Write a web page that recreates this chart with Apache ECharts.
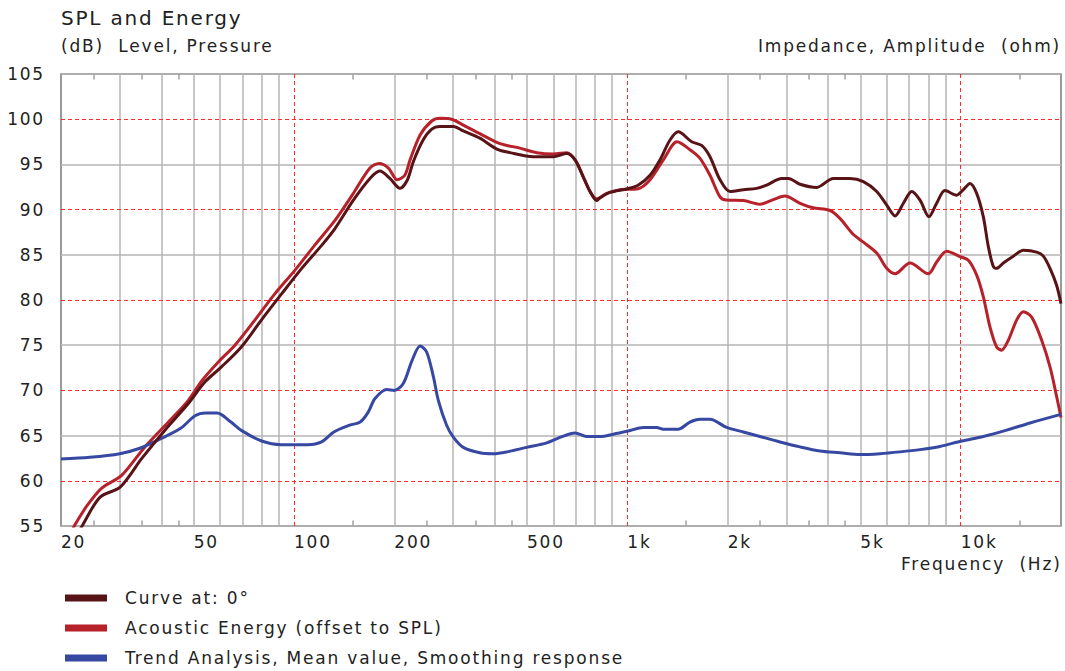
<!DOCTYPE html>
<html>
<head>
<meta charset="utf-8">
<title>SPL and Energy</title>
<script src="https://cdn.jsdelivr.net/npm/echarts@6/dist/echarts.min.js"></script>
<style>
  html, body { margin: 0; padding: 0; background: #fff; }
  #main { width: 1065px; height: 671px; }
  #main svg text { letter-spacing: 1.8px; }
</style>
</head>
<body>
<div id="main"></div>
<script>
// curve at 0 deg
var spl0Freq = [22.4, 23.3, 26.2, 30.1, 34.9, 41, 48.2, 54.1, 60.6, 69.5, 79.7, 91.9, 105.5, 121.4, 132.7, 150.7, 169, 181, 194, 208, 219, 228, 244, 259, 274, 301, 322, 361, 406, 445, 522, 600, 658, 697, 738, 773, 809, 828, 887, 1000, 1077, 1170, 1253, 1343, 1422, 1560, 1671, 1770, 1897, 2033, 2229, 2444, 2618, 2904, 3042, 3297, 3699, 4150, 4656, 5106, 5600, 6001, 6356, 6733, 7131, 7553, 8036, 8472, 8974, 9727, 10186, 10666, 11170, 11696, 12107, 12533, 12824, 13428, 14388, 15418, 16906, 17702, 18538, 19412, 20000];
var spl0Level = [54.0, 55.2, 58.2, 59.3, 62.45, 65.6, 68.55, 70.95, 72.6, 74.8, 77.75, 80.7, 83.5, 86.1, 87.9, 91.05, 93.45, 94.26, 93.45, 92.35, 93.3, 95.3, 97.7, 98.9, 99.2, 99.2, 98.7, 97.9, 96.7, 96.3, 95.85, 95.85, 96.2, 95.5, 93.6, 92.0, 91.0, 91.3, 91.9, 92.3, 92.7, 93.8, 95.5, 97.7, 98.6, 97.5, 97.1, 95.85, 93.3, 92.0, 92.2, 92.35, 92.7, 93.45, 93.45, 92.8, 92.45, 93.45, 93.45, 93.1, 92.0, 90.5, 89.3, 90.7, 92.0, 91.05, 89.2, 90.7, 92.1, 91.6, 92.2, 92.9, 91.8, 89.2, 85.9, 83.7, 83.5, 84.1, 84.85, 85.5, 85.3, 84.85, 83.5, 81.6, 79.6];

// acoustic energy
var energyFreq = [21.3, 22, 24, 26.5, 30.4, 35.7, 42, 48.2, 53, 59.3, 66.5, 76.4, 87.7, 100.7, 115.6, 132.7, 150.7, 169, 180, 192, 204, 215, 223, 239, 259, 274, 297, 322, 361, 415, 476, 535, 600, 658, 697, 738, 773, 809, 867, 951, 1077, 1170, 1283, 1410, 1545, 1650, 1770, 1897, 1980, 2229, 2500, 2740, 2970, 3297, 3610, 4060, 4350, 4750, 5106, 5600, 6001, 6356, 7048, 8000, 8472, 9080, 9954, 10544, 11170, 11696, 12248, 12824, 13274, 13900, 14730, 15418, 16330, 17500, 18538, 19412, 20000];
var energyLevel = [54.0, 55.1, 57.3, 59.2, 60.6, 63.75, 66.5, 68.9, 71.1, 73.15, 75.0, 77.8, 80.7, 83.3, 86.1, 88.8, 91.8, 94.6, 95.1, 94.6, 93.3, 93.8, 95.5, 98.25, 99.8, 100.1, 100.0, 99.35, 98.4, 97.3, 96.8, 96.3, 96.15, 96.3, 95.5, 93.6, 92.0, 91.2, 91.8, 92.2, 92.3, 93.3, 95.5, 97.5, 96.6, 95.7, 93.8, 91.4, 91.05, 91.0, 90.6, 91.1, 91.5, 90.7, 90.2, 89.9, 89.0, 87.3, 86.4, 85.2, 83.5, 82.9, 84.1, 82.9, 84.2, 85.4, 84.8, 84.4, 82.75, 80.35, 77.0, 74.8, 74.45, 75.55, 77.8, 78.7, 78.1, 75.55, 72.6, 69.3, 67.0];

// trend analysis
var trendFreq = [20, 24.4, 30, 34.5, 39.6, 45.7, 50.5, 54.4, 58.8, 64.7, 69.7, 80, 91.5, 110, 121, 131.7, 147, 158, 167, 175, 190, 200, 213, 226, 239, 250, 262, 271, 287, 301, 322, 361, 396, 435, 499, 573, 628, 697, 755, 828, 908, 1005, 1117, 1225, 1282, 1420, 1542, 1652, 1770, 1986, 2229, 2500, 2870, 3297, 3784, 4346, 4990, 5728, 6578, 7553, 8670, 10070, 11700, 13740, 16150, 20000];
var trendLevel = [62.4, 62.6, 63.0, 63.6, 64.6, 65.8, 67.2, 67.5, 67.5, 66.5, 65.55, 64.4, 64.0, 64.0, 64.3, 65.4, 66.15, 66.5, 67.6, 69.1, 70.1, 70.0, 70.8, 73.3, 74.9, 74.25, 71.5, 68.9, 66.15, 64.8, 63.7, 63.1, 63.0, 63.2, 63.7, 64.2, 64.8, 65.3, 64.9, 64.9, 65.15, 65.5, 65.9, 65.9, 65.7, 65.7, 66.5, 66.8, 66.8, 65.9, 65.4, 64.9, 64.3, 63.75, 63.3, 63.1, 62.9, 63.0, 63.2, 63.45, 63.8, 64.4, 64.9, 65.6, 66.4, 67.35];

// axis ticks and grid
var tickFreq = [20, 50, 100, 200, 500, 1000, 2000, 5000, 10000];
var tickText = ['20', '50', '100', '200', '500', '1k', '2k', '5k', '10k'];
var decadeLines = [100, 1000, 10000];
var minorLines = [30, 40, 50, 60, 70, 80, 90, 200, 300, 400, 500, 600, 700, 800, 900, 2000, 3000, 4000, 5000, 6000, 7000, 8000, 9000];
var shortTicks = [25, 35, 45, 150, 250, 350, 450, 1500, 2500, 3500, 4500, 15000];
var dashedLevels = [60, 70, 80, 90, 100];

var names = ['Curve at: 0°', 'Acoustic Energy (offset to SPL)', 'Trend Analysis, Mean value, Smoothing response'];
var colors = ['#581317', '#b7212a', '#3648a2'];
var font = 'DejaVu Sans';

function pairs(xs, ys) {
    return xs.map(function (x, i) { return [x, ys[i]]; });
}

var gridMarks = [];
minorLines.forEach(function (f) {
    gridMarks.push({xAxis: f, lineStyle: {color: '#b4b4b4', width: 1.5, type: 'solid'}});
});
decadeLines.forEach(function (f) {
    gridMarks.push({xAxis: f, lineStyle: {color: '#ff2b2b', width: 1, type: [4, 3]}});
});
dashedLevels.forEach(function (v) {
    gridMarks.push({yAxis: v, lineStyle: {color: '#ff2b2b', width: 1, type: [4, 3]}});
});
shortTicks.forEach(function (f) {
    gridMarks.push([{coord: [f, 105], lineStyle: {color: '#a0a0a0', width: 1.5, type: 'solid'}}, {coord: [f, 104.4]}]);
    gridMarks.push([{coord: [f, 55], lineStyle: {color: '#a0a0a0', width: 1.5, type: 'solid'}}, {coord: [f, 55.6]}]);
});
tickFreq.forEach(function (f, i) {
    gridMarks.push({
        xAxis: f,
        lineStyle: {color: 'rgba(255,255,255,0)', width: 0},
        label: {
            show: true, position: 'start', distance: 7, align: 'left', verticalAlign: 'top',
            formatter: tickText[i], fontSize: 17, color: '#222', fontFamily: font
        }
    });
});

function lineSeries(name, data, color, z) {
    return {
        name: name,
        type: 'line',
        data: data,
        symbol: 'none',
        smooth: 0.3,
        z: z,
        itemStyle: {color: color},
        lineStyle: {width: 3, color: color}
    };
}

var dom = document.getElementById('main');
var myChart = echarts.init(dom, null, {renderer: 'svg'});
var option = {
    animation: false,
    backgroundColor: '#fff',
    textStyle: {fontFamily: font},
    title: [
        {text: 'SPL and Energy', left: 61, top: 8, padding: 0,
            textStyle: {fontSize: 20, fontWeight: 'normal', color: '#222', fontFamily: font}},
        {text: '(dB)  Level, Pressure', left: 61, top: 37, padding: 0,
            textStyle: {fontSize: 17, fontWeight: 'normal', color: '#222', fontFamily: font}},
        {text: 'Impedance, Amplitude  (ohm)', left: 758, top: 37, padding: 0,
            textStyle: {fontSize: 17, fontWeight: 'normal', color: '#222', fontFamily: font}},
        {text: 'Frequency  (Hz)', left: 901, top: 555, padding: 0,
            textStyle: {fontSize: 17, fontWeight: 'normal', color: '#222', fontFamily: font}}
    ],
    legend: {
        orient: 'vertical',
        left: 65,
        top: 588,
        padding: 0,
        icon: 'rect',
        itemWidth: 42,
        itemHeight: 7,
        itemGap: 10,
        selectedMode: false,
        data: names,
        textStyle: {fontSize: 17, color: '#222', lineHeight: 20, padding: [0, 0, 0, 13], fontFamily: font}
    },
    grid: {
        left: 61,
        right: 4,
        top: 74,
        bottom: 145,
        show: true,
        borderColor: '#7a7a7a',
        borderWidth: 1.5,
        backgroundColor: '#fff'
    },
    xAxis: {
        type: 'log',
        logBase: 10,
        min: 20,
        max: 20000,
        axisLine: {show: false},
        axisTick: {show: false},
        axisLabel: {show: false},
        splitLine: {show: false}
    },
    yAxis: {
        type: 'value',
        min: 55,
        max: 105,
        interval: 5,
        axisLine: {show: false},
        axisTick: {show: false},
        axisLabel: {fontSize: 17, color: '#222', margin: 16, fontFamily: font},
        splitLine: {show: true, lineStyle: {color: ['#b4b4b4', 'rgba(0,0,0,0)'], width: 1.5}}
    },
    series: [
        {
            name: 'grid',
            type: 'line',
            data: [],
            silent: true,
            markLine: {
                silent: true,
                z: 1,
                symbol: ['none', 'none'],
                label: {show: false},
                emphasis: {disabled: true},
                data: gridMarks
            }
        },
        lineSeries(names[0], pairs(spl0Freq, spl0Level), colors[0], 4),
        lineSeries(names[1], pairs(energyFreq, energyLevel), colors[1], 3),
        lineSeries(names[2], pairs(trendFreq, trendLevel), colors[2], 3)
    ]
};
if (option && typeof option === 'object') {
    myChart.setOption(option, true);
}
</script>
</body>
</html>
